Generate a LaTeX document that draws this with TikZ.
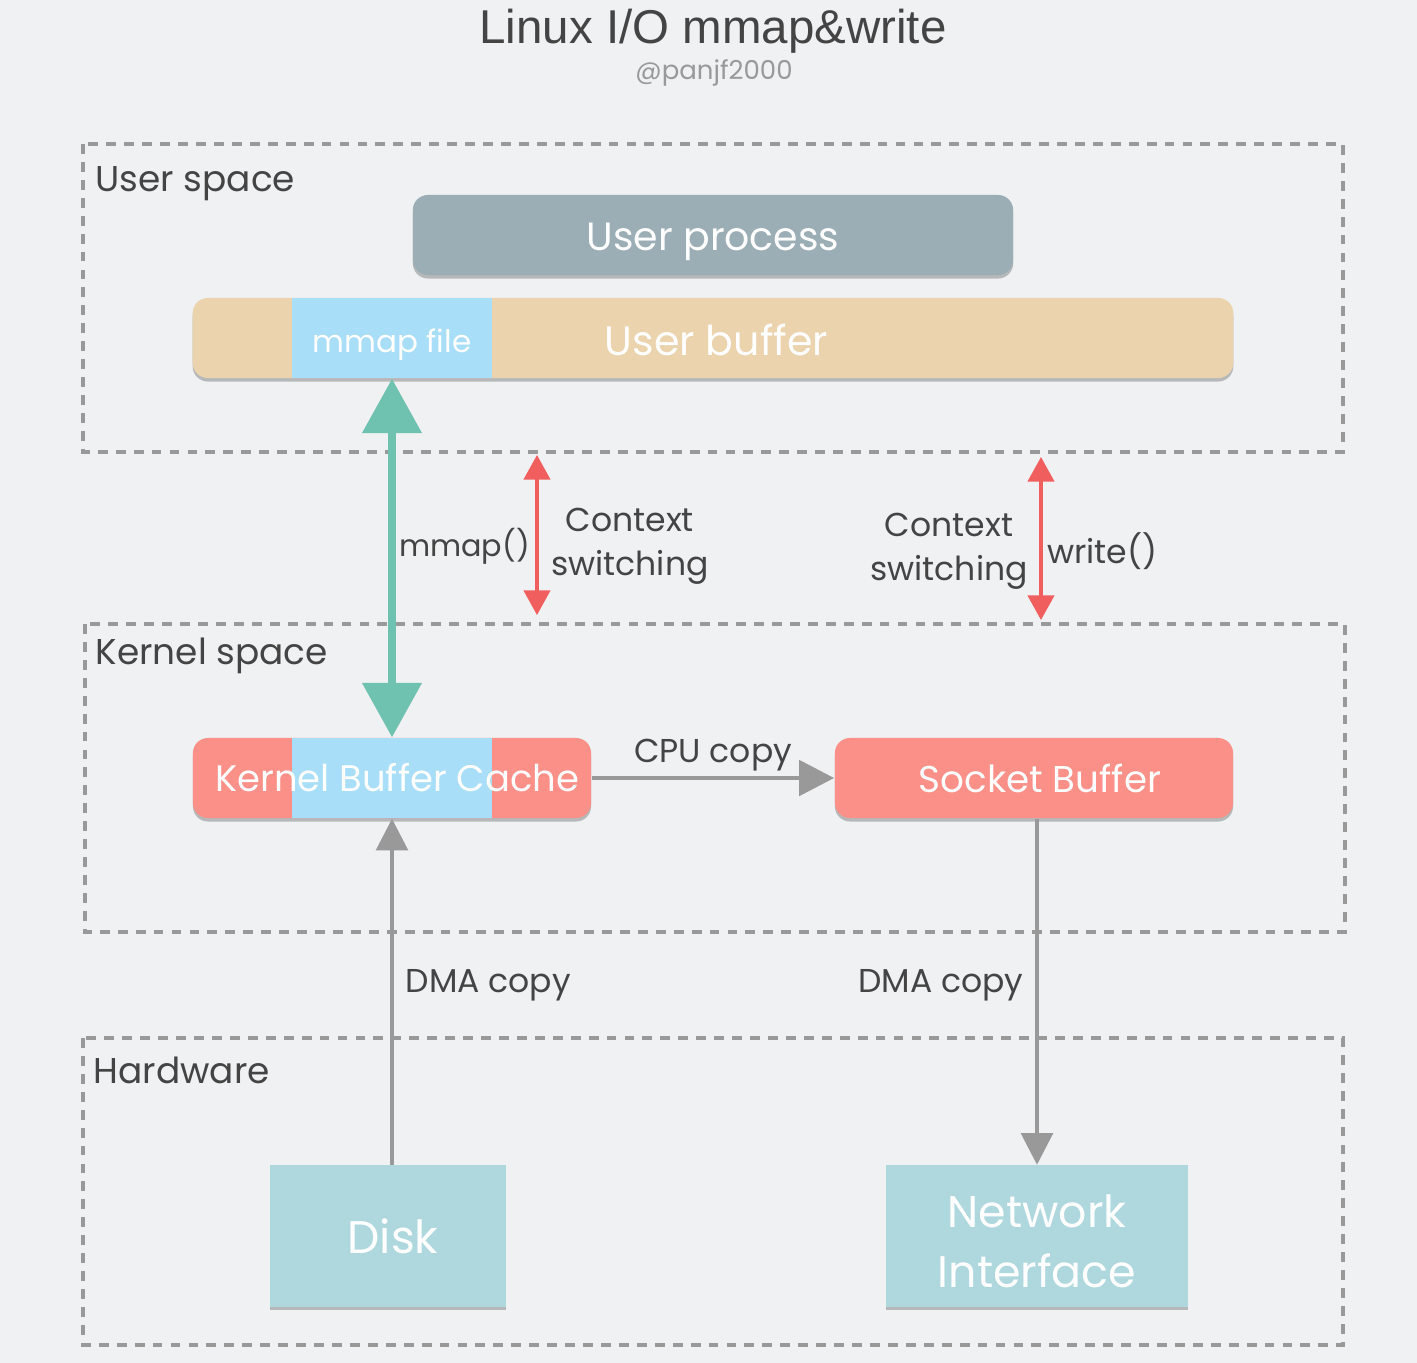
\documentclass[tikz,border=0pt]{standalone}
\usepackage{fontspec}
\setmainfont{Poppins}
\newfontfamily\titlefont{Liberation Sans}
\usetikzlibrary{arrows.meta,shadows}

\definecolor{bgcol}{HTML}{F0F1F3}
\definecolor{framegray}{HTML}{999999}
\definecolor{textgray}{HTML}{444444}
\definecolor{procgray}{HTML}{9BADB5}
\definecolor{buftan}{HTML}{EAD3AD}
\definecolor{mmapblue}{HTML}{A8DEF8}
\definecolor{kbufred}{HTML}{FA9088}
\definecolor{hwteal}{HTML}{AED8DE}
\definecolor{mmapgreen}{HTML}{6FC1B0}
\definecolor{ctxred}{HTML}{F05E5E}
\definecolor{copygray}{HTML}{999999}

\newcommand{\lowered}[2]{\raisebox{-#1}[\height][\depth]{#2}}

\begin{document}
\begin{tikzpicture}[x=0.01cm,y=-0.01cm]
    \tikzset{
        region/.style={
            draw=framegray, line width=1.1pt,
            dash pattern=on 2.8pt off 2.3pt
        },
        regionlabel/.style={
            anchor=west, inner sep=0pt, text=textgray,
            font=\fontsize{10.2}{13}\selectfont
        },
        labeltext/.style={
            text=textgray, align=center,
            font=\fontsize{9.4}{12.6}\selectfont
        },
        box/.style={
            rectangle, inner sep=0pt, text=white,
            drop shadow={shadow xshift=0pt, shadow yshift=-1pt, opacity=0.5}
        },
        rbox/.style={box, rounded corners=4.3pt},
        ctxarrow/.style={
            draw=ctxred, line width=0.9pt,
            {Triangle[width=7.5pt,length=7pt]}-{Triangle[width=7.5pt,length=7pt]}
        },
        copyarrow/.style={
            draw=copygray, line width=#1,
            -{Triangle[width=9pt,length=9pt]}
        }
    }

    % background and frame
    \fill[bgcol] (0,0) rectangle (1417,1363);
    \useasboundingbox (0,0) rectangle (1417,1363);

    \node[text=textgray, font=\titlefont\fontsize{13.5}{16}\selectfont] (title) at (713,31) {Linux I/O mmap\&write};
    \node[text=framegray, font=\fontsize{7.4}{9}\selectfont] (author) at (714,73) {@panjf2000};

    % spaces
    \draw[region] (83,144) rectangle (1343,452);
    \draw[region] (85,624) rectangle (1345,932);
    \draw[region] (83,1038) rectangle (1343,1345);
    \node[regionlabel] (userlbl) at (95,184) {User space};
    \node[regionlabel] (kernlbl) at (95,656) {Kernel space};
    \node[regionlabel] (hwlbl) at (93,1070) {Hardware};

    % user space
    \node[rbox, fill=procgray, minimum width=6cm, minimum height=0.8cm,
        font=\fontsize{11.2}{14}\selectfont] (proc) at (713,235) {\lowered{2pt}{User process}};
    \node[rbox, fill=buftan, minimum width=10.4cm, minimum height=0.8cm,
        font=\fontsize{11.7}{14}\selectfont] (ubuf) at (713,338) {\lowered{0.6pt}{\hspace{2pt}User buffer}};
    \node[rectangle, inner sep=0pt, fill=mmapblue, text=white, minimum width=2cm,
        minimum height=0.8cm, font=\fontsize{8.8}{11}\selectfont] (mmap) at (392,338) {\lowered{2pt}{mmap file}};

    % kernel space
    \node[rbox, fill=kbufred, minimum width=3.98cm, minimum height=0.8cm,
        font=\fontsize{10.5}{13}\selectfont,
        path picture={
            \fill[mmapblue, sharp corners] ([xshift=0.99cm]path picture bounding box.south west)
                rectangle ([xshift=2.99cm]path picture bounding box.north west);
        }] (kbc) at (392,778) {\hspace{3pt}Kernel Buffer Cache};
    \node[rbox, fill=kbufred, minimum width=3.98cm, minimum height=0.8cm,
        font=\fontsize{10.6}{13}\selectfont] (sock) at (1034,778) {\hspace{3.4pt}Socket Buffer};

    % hardware
    \node[box, fill=hwteal, minimum width=2.35cm, minimum height=1.41cm,
        font=\fontsize{13}{15}\selectfont] (disk) at (388,1236) {\hspace{2.8pt}Disk};
    \node[box, fill=hwteal, minimum width=3.02cm, minimum height=1.41cm, align=center,
        font=\fontsize{12.6}{17}\selectfont] (nic) at (1037,1236) {\lowered{1.4pt}{Network}\\\lowered{1.4pt}{Interface}};

    % mmap()
    \draw[draw=mmapgreen, line width=2.3pt,
        {Triangle[width=16.5pt,length=15.5pt]}-{Triangle[width=16.5pt,length=15.5pt]}]
        (mmap.south) -- (kbc.north);
    \node[labeltext, inner sep=1pt, anchor=east, font=\fontsize{8.6}{12}\selectfont] (mmapcall) at (534,546) {mmap()};

    % context switching
    \coordinate (ctx1top) at (537,455);
    \coordinate (ctx1bot) at (537,615);
    \coordinate (ctx2top) at (1041,457);
    \coordinate (ctx2bot) at (1041,620);
    \draw[ctxarrow] (ctx1top) -- (ctx1bot);
    \draw[ctxarrow] (ctx2top) -- (ctx2bot);
    \node[labeltext, inner sep=1pt, anchor=west] (ctx1) at (547,546) {Context\\switching};
    \node[labeltext, inner sep=1pt, anchor=east] (ctx2) at (1032,551) {Context\\switching};
    \node[labeltext, inner sep=1pt, anchor=west] (writecall) at (1043,551) {write()};

    % copies
    \draw[copyarrow=1.4pt, -{Triangle[width=10pt,length=10pt]}] (kbc.east) -- node[labeltext, above, yshift=-2pt] (cpulbl) {CPU copy} (sock.west);
    \draw[copyarrow=1.1pt] (disk.north -| kbc.south) -- node[labeltext, pos=0.52, right] (dma1) {DMA copy} (kbc.south);
    \draw[copyarrow=1.1pt] (sock.south -| nic.north) -- node[labeltext, pos=0.48, left] (dma2) {DMA copy} (nic.north);
\end{tikzpicture}
\end{document}
